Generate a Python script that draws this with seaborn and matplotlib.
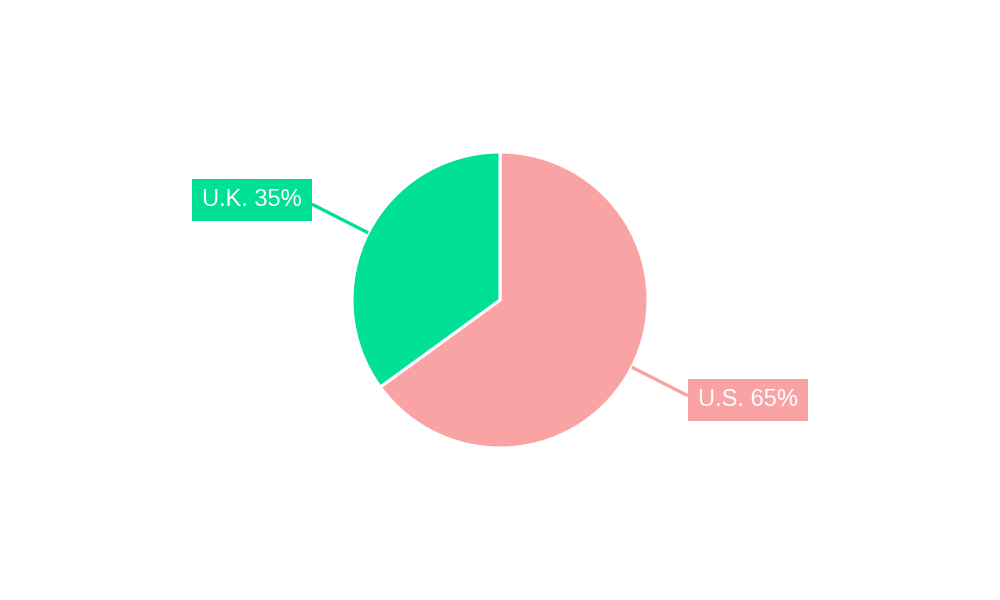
import numpy as np
import matplotlib
matplotlib.use("Agg")
import matplotlib.pyplot as plt
import seaborn as sns

# chart data
countries = ["U.S.", "U.K."]
shares = [65, 35]
colors = ["#F9A3A4", "#00E096"]

sns.set_theme(style="white")
plt.rcParams['font.family'] = ['Liberation Sans', 'DejaVu Sans']

fig = plt.figure(figsize=(10, 6), dpi=100)
ax = fig.add_axes([0, 0, 1, 1])

center = (500, 300)
radius = 148
wedges, _ = ax.pie(
    shares,
    colors=colors,
    startangle=90,
    counterclock=False,
    center=center,
    radius=radius,
    wedgeprops=dict(edgecolor='white', linewidth=2.2),
    frame=True,
)
ax.set_xlim(0, 1000)
ax.set_ylim(0, 600)
ax.set_aspect('equal')
ax.axis('off')

# labels with leader lines, radial out from the middle of each slice
pad_px = 10
for w, name, val, col in zip(wedges, countries, shares, colors):
    mid = np.deg2rad((w.theta1 + w.theta2) / 2)
    edge = (center[0] + radius * np.cos(mid), center[1] + radius * np.sin(mid))
    out = (center[0] + (radius + 63) * np.cos(mid), center[1] + (radius + 63) * np.sin(mid))
    left = np.cos(mid) < 0
    ax.plot([edge[0], out[0]], [edge[1], out[1]], color=col, lw=2.4,
            solid_capstyle='butt', zorder=1)
    ax.text(
        out[0] + (-pad_px if left else pad_px),
        out[1] + 4 * np.sign(np.sin(mid)),
        f"{name} {val}%",
        ha='right' if left else 'left',
        va='center',
        fontsize=17,
        color='white',
        bbox=dict(boxstyle='square,pad=0.42', fc=col, ec='none'),
        zorder=3,
    )

fig.savefig("out.png", dpi=100)
